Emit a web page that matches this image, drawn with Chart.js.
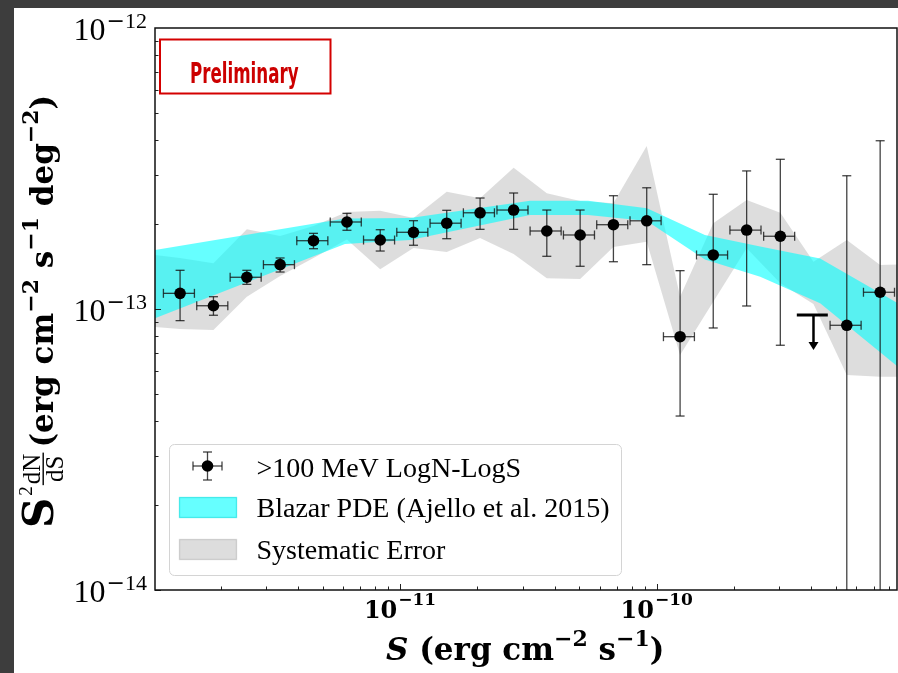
<!DOCTYPE html>
<html>
<head>
<meta charset="utf-8">
<script src="https://cdn.jsdelivr.net/npm/chart.js@4.4.0/dist/chart.umd.min.js"></script>
<style>
  html, body { margin: 0; padding: 0; background: #3d3d3d; }
  canvas { display: block; }
</style>
</head>
<body>
<canvas id="chart" width="898" height="673"></canvas>
<script>
// LogN-LogS points (S in erg cm^-2 s^-1, S^2 dN/dS in erg cm^-2 s^-1 deg^-2)
const sPts = [1.39e-12, 1.875e-12, 2.53e-12, 3.41e-12, 4.60e-12, 6.21e-12, 8.37e-12, 1.128e-11, 1.52e-11, 2.05e-11, 2.77e-11, 3.73e-11, 5.03e-11, 6.78e-11, 9.14e-11, 1.233e-10, 1.66e-10, 2.24e-10, 3.03e-10, 5.50e-10, 7.42e-10];
const sLo = [1.197e-12, 1.614e-12, 2.178e-12, 2.936e-12, 3.960e-12, 5.346e-12, 7.206e-12, 9.711e-12, 1.309e-11, 1.765e-11, 2.385e-11, 3.211e-11, 4.330e-11, 5.837e-11, 7.869e-11, 1.062e-10, 1.429e-10, 1.928e-10, 2.609e-10, 4.735e-10, 6.388e-10];
const sHi = [1.581e-12, 2.133e-12, 2.877e-12, 3.878e-12, 5.232e-12, 7.063e-12, 9.520e-12, 1.283e-11, 1.729e-11, 2.332e-11, 3.151e-11, 4.242e-11, 5.721e-11, 7.711e-11, 1.040e-10, 1.402e-10, 1.888e-10, 2.548e-10, 3.446e-10, 6.255e-10, 8.439e-10];
const vPts = [1.137e-13, 1.027e-13, 1.297e-13, 1.438e-13, 1.750e-13, 2.04e-13, 1.76e-13, 1.875e-13, 2.02e-13, 2.20e-13, 2.25e-13, 1.895e-13, 1.834e-13, 1.995e-13, 2.06e-13, 7.97e-14, 1.557e-13, 1.91e-13, 1.815e-13, 8.75e-14, 1.147e-13];
const vLo = [9.09e-14, 9.50e-14, 1.224e-13, 1.354e-13, 1.639e-13, 1.906e-13, 1.608e-13, 1.686e-13, 1.779e-13, 1.921e-13, 1.921e-13, 1.540e-13, 1.419e-13, 1.473e-13, 1.438e-13, 4.16e-14, 8.56e-14, 1.025e-13, 7.43e-14, 0, 0];
const vHi = [1.373e-13, 1.106e-13, 1.373e-13, 1.519e-13, 1.859e-13, 2.19e-13, 1.915e-13, 2.062e-13, 2.245e-13, 2.483e-13, 2.587e-13, 2.25e-13, 2.25e-13, 2.53e-13, 2.70e-13, 1.369e-13, 2.56e-13, 3.10e-13, 3.41e-13, 2.98e-13, 3.97e-13];

// upper limit bin
const ulS = [4.08e-10];
const ulSLo = [3.513e-10];
const ulSHi = [4.640e-10];
const ulV = [9.52e-14];
const ulTip = [7.15e-14];

// Blazar PDE band
const pdeS = [1.11e-12, 6.10e-12, 1.094e-11, 3.21e-11, 5.40e-11, 9.16e-11, 1.54e-10, 2.53e-10, 4.33e-10, 8.70e-10];
const pdeHi = [1.622e-13, 2.099e-13, 2.108e-13, 2.429e-13, 2.429e-13, 2.282e-13, 1.834e-13, 1.669e-13, 1.513e-13, 1.048e-13];
const pdeLo = [9.27e-14, 1.703e-13, 1.760e-13, 2.160e-13, 2.160e-13, 2.057e-13, 1.501e-13, 1.303e-13, 1.048e-13, 6.23e-14];

// systematic error band
const sysS = [1.11e-12, 1.39e-12, 1.875e-12, 2.53e-12, 3.41e-12, 4.60e-12, 6.21e-12, 8.37e-12, 1.128e-11, 1.52e-11, 2.05e-11, 2.77e-11, 3.73e-11, 5.03e-11, 6.78e-11, 9.14e-11, 1.233e-10, 1.66e-10, 2.24e-10, 3.03e-10, 4.08e-10, 5.50e-10, 7.42e-10, 8.70e-10];
const sysHi = [1.557e-13, 1.519e-13, 1.454e-13, 1.921e-13, 1.819e-13, 1.974e-13, 2.214e-13, 2.238e-13, 2.108e-13, 2.615e-13, 2.477e-13, 3.184e-13, 2.58e-13, 2.423e-13, 2.378e-13, 3.80e-13, 1.106e-13, 2.018e-13, 2.443e-13, 2.201e-13, 1.473e-13, 1.760e-13, 1.434e-13, 1.44e-13];
const sysLo = [8.63e-14, 8.49e-14, 8.42e-14, 1.106e-13, 1.311e-13, 1.519e-13, 1.767e-13, 1.384e-13, 1.648e-13, 1.595e-13, 1.789e-13, 1.569e-13, 1.286e-13, 1.279e-13, 1.662e-13, 1.736e-13, 6.86e-14, 1.062e-13, 1.644e-13, 1.234e-13, 1.042e-13, 5.82e-14, 5.74e-14, 5.74e-14];

// axes
const xRange = [1.11e-12, 8.63e-10];
const yRange = [1e-14, 1e-12];
const xTickExp = ['−11', '−10'];
const xTickVal = [1e-11, 1e-10];
const yTickExp = ['−14', '−13', '−12'];
const yTickVal = [1e-14, 1e-13, 1e-12];
const legendLabels = ['>100 MeV LogN-LogS', 'Blazar PDE (Ajello et al. 2015)', 'Systematic Error'];

const CYAN = 'rgba(0,255,255,0.6)';
const GREY = 'rgba(128,128,128,0.27)';
const BOLD = '"DejaVu Serif", serif';
const REG = '"Liberation Serif", "Times New Roman", serif';

const pts = (xs, ys) => xs.map((x, i) => ({ x: x, y: ys[i] }));

// draw a list of text runs left to right
function runsWidth(ctx, runs) {
  let w = 0;
  runs.forEach(r => { ctx.font = r.f; w += ctx.measureText(r.t).width + (r.gap || 0); });
  return w;
}
function drawRuns(ctx, runs, x, y) {
  runs.forEach(r => {
    ctx.font = r.f;
    ctx.fillText(r.t, x, y + (r.dy || 0));
    x += ctx.measureText(r.t).width + (r.gap || 0);
  });
  return x;
}

function seg(ctx, x1, y1, x2, y2) {
  ctx.beginPath(); ctx.moveTo(x1, y1); ctx.lineTo(x2, y2); ctx.stroke();
}

const decor = {
  id: 'decor',
  beforeDraw(chart) {
    const ctx = chart.ctx;
    ctx.save();
    ctx.fillStyle = '#3d3d3d';
    ctx.fillRect(0, 0, chart.width, chart.height);
    ctx.fillStyle = '#ffffff';
    ctx.fillRect(14, 8, chart.width - 14, chart.height - 8);
    ctx.restore();
  },
  beforeDatasetDraw(chart, args) {
    if (args.index !== 0) return;
    const ctx = chart.ctx, xs = chart.scales.x, ys = chart.scales.y, a = chart.chartArea;
    ctx.save();
    ctx.beginPath(); ctx.rect(a.left, a.top, a.right - a.left, a.bottom - a.top); ctx.clip();
    ctx.strokeStyle = 'rgba(20,20,20,0.8)';
    ctx.lineWidth = 1.3;
    const cap = 4.5;
    sPts.forEach((s, i) => {
      const px = xs.getPixelForValue(s), py = ys.getPixelForValue(vPts[i]);
      const x1 = xs.getPixelForValue(sLo[i]), x2 = xs.getPixelForValue(sHi[i]);
      const yTop = ys.getPixelForValue(vHi[i]);
      const yBot = vLo[i] > 0 ? ys.getPixelForValue(vLo[i]) : a.bottom + 20;
      seg(ctx, x1, py, x2, py);
      seg(ctx, x1, py - cap, x1, py + cap);
      seg(ctx, x2, py - cap, x2, py + cap);
      seg(ctx, px, yTop, px, yBot);
      seg(ctx, px - cap, yTop, px + cap, yTop);
      if (vLo[i] > 0) seg(ctx, px - cap, yBot, px + cap, yBot);
    });
    // upper limit
    ctx.strokeStyle = '#000'; ctx.fillStyle = '#000';
    ulS.forEach((s, i) => {
      const px = xs.getPixelForValue(s), py = ys.getPixelForValue(ulV[i]);
      const tip = ys.getPixelForValue(ulTip[i]);
      ctx.lineWidth = 3;
      seg(ctx, xs.getPixelForValue(ulSLo[i]), py, xs.getPixelForValue(ulSHi[i]), py);
      ctx.lineWidth = 2.5;
      seg(ctx, px, py, px, tip - 7);
      ctx.beginPath();
      ctx.moveTo(px - 5, tip - 8); ctx.lineTo(px + 5, tip - 8); ctx.lineTo(px, tip); ctx.closePath();
      ctx.fill();
    });
    ctx.restore();
  },
  afterDatasetsDraw(chart) {
    const ctx = chart.ctx, xs = chart.scales.x, ys = chart.scales.y, a = chart.chartArea;
    ctx.save();
    // inward ticks
    ctx.strokeStyle = '#222'; ctx.lineWidth = 1;
    for (let e = -12; e <= -10; e++) {
      for (let m = 1; m <= 9; m++) {
        const v = m * Math.pow(10, e);
        if (v < xRange[0] || v > xRange[1]) continue;
        const px = Math.round(xs.getPixelForValue(v)) + 0.5;
        seg(ctx, px, a.bottom, px, a.bottom - (m === 1 ? 6 : 3.5));
      }
    }
    for (let e = -14; e <= -13; e++) {
      for (let m = 1; m <= 9; m++) {
        const v = m * Math.pow(10, e);
        const py = Math.round(ys.getPixelForValue(v)) + 0.5;
        seg(ctx, a.left, py, a.left + (m === 1 ? 6 : 3.5), py);
      }
    }
    // frame
    ctx.strokeStyle = '#111'; ctx.lineWidth = 1.5;
    ctx.strokeRect(a.left, a.top, a.right - a.left, a.bottom - a.top);

    // Preliminary box
    ctx.strokeStyle = '#d40000'; ctx.lineWidth = 2;
    ctx.strokeRect(160, 39.5, 170.5, 54);
    ctx.fillStyle = '#cc0000';
    ctx.font = 'bold 29px "Liberation Sans Narrow", "DejaVu Sans Condensed", sans-serif';
    const pw = ctx.measureText('Preliminary').width;
    ctx.save();
    ctx.translate(190, 82.5);
    ctx.scale(108.5 / pw, 1);
    ctx.fillText('Preliminary', 0, 0);
    ctx.restore();

    // legend
    const lx = 169.5, ly = 444.5, lw = 452, lh = 131;
    ctx.beginPath();
    ctx.roundRect(lx, ly, lw, lh, 5);
    ctx.fillStyle = 'rgba(255,255,255,0.8)'; ctx.fill();
    ctx.strokeStyle = '#d4d4d4'; ctx.lineWidth = 1; ctx.stroke();
    // entry 1: error bar marker
    ctx.strokeStyle = 'rgba(20,20,20,0.8)'; ctx.lineWidth = 1.3;
    const mx = 207.5, my = 466;
    seg(ctx, mx - 14.5, my, mx + 14.5, my);
    seg(ctx, mx - 14.5, my - 4.5, mx - 14.5, my + 4.5);
    seg(ctx, mx + 14.5, my - 4.5, mx + 14.5, my + 4.5);
    seg(ctx, mx, my - 14, mx, my + 14);
    seg(ctx, mx - 4.5, my - 14, mx + 4.5, my - 14);
    seg(ctx, mx - 4.5, my + 14, mx + 4.5, my + 14);
    ctx.fillStyle = '#000';
    ctx.beginPath(); ctx.arc(mx, my, 5.8, 0, Math.PI * 2); ctx.fill();
    // entry 2, 3: patches
    ctx.fillStyle = CYAN; ctx.fillRect(179.5, 497.5, 57, 20);
    ctx.strokeStyle = 'rgba(0,220,220,0.6)'; ctx.strokeRect(179.5, 497.5, 57, 20);
    ctx.fillStyle = GREY; ctx.fillRect(179.5, 539.5, 57, 20);
    ctx.strokeStyle = 'rgba(128,128,128,0.3)'; ctx.strokeRect(179.5, 539.5, 57, 20);
    ctx.fillStyle = '#000';
    ctx.font = '28px ' + REG;
    ctx.textBaseline = 'alphabetic';
    ctx.fillText(legendLabels[0], 256.5, 477);
    ctx.fillText(legendLabels[1], 256.5, 517);
    ctx.fillText(legendLabels[2], 256.5, 558.5);
    ctx.restore();
  },
  afterDraw(chart) {
    const ctx = chart.ctx, xs = chart.scales.x, ys = chart.scales.y;
    ctx.save();
    ctx.fillStyle = '#000';
    ctx.textBaseline = 'alphabetic';
    // x tick labels
    xTickVal.forEach((v, i) => {
      const runs = [
        { t: '10', f: 'bold 24px ' + BOLD, gap: 1 },
        { t: xTickExp[i], f: 'bold 17px ' + BOLD, dy: -13 }
      ];
      const w = runsWidth(ctx, runs);
      drawRuns(ctx, runs, xs.getPixelForValue(v) - w / 2, 618);
    });
    // y tick labels
    yTickVal.forEach((v, i) => {
      const runs = [
        { t: '10', f: '32px ' + REG, gap: 1 },
        { t: '−', f: '22px ' + BOLD, dy: -12 },
        { t: yTickExp[i].slice(1), f: '22px ' + REG, dy: -12 }
      ];
      const w = runsWidth(ctx, runs);
      drawRuns(ctx, runs, 147 - w, ys.getPixelForValue(v) + 12);
    });
    // x axis title
    const xt = [
      { t: 'S', f: 'italic bold 31px ' + BOLD },
      { t: ' (erg cm', f: 'bold 31px ' + BOLD },
      { t: '−2', f: 'bold 22px ' + BOLD, dy: -14 },
      { t: ' s', f: 'bold 31px ' + BOLD },
      { t: '−1', f: 'bold 22px ' + BOLD, dy: -14 },
      { t: ')', f: 'bold 31px ' + BOLD }
    ];
    drawRuns(ctx, xt, 386, 660);
    // y axis title (rotated)
    ctx.translate(53, 528);
    ctx.rotate(-Math.PI / 2);
    ctx.font = 'bold 42px ' + BOLD;
    ctx.fillText('S', 0, 0);
    let u = ctx.measureText('S').width + 2;
    ctx.font = '19px ' + REG;
    ctx.fillText('2', u, -21);
    u += ctx.measureText('2').width + 1;
    ctx.font = '25px ' + REG;
    const wN = ctx.measureText('dN').width, wS = ctx.measureText('dS').width;
    const fw = Math.max(wN, wS) + 2;
    ctx.fillText('dN', u + (fw - wN) / 2, -13);
    ctx.fillText('dS', u + (fw - wS) / 2, 10);
    ctx.fillRect(u, -10.5, fw, 1.4);
    u = Math.max(u + fw + 5, 76);
    const yt = [
      { t: '(erg cm', f: 'bold 31px ' + BOLD },
      { t: '−2', f: 'bold 22px ' + BOLD, dy: -15 },
      { t: ' s', f: 'bold 31px ' + BOLD },
      { t: '−1', f: 'bold 22px ' + BOLD, dy: -15 },
      { t: ' deg', f: 'bold 31px ' + BOLD },
      { t: '−2', f: 'bold 22px ' + BOLD, dy: -15 },
      { t: ')', f: 'bold 31px ' + BOLD }
    ];
    drawRuns(ctx, yt, u, 0);
    ctx.restore();
  }
};

new Chart(document.getElementById('chart'), {
  type: 'line',
  data: {
    datasets: [
      { label: 'points', data: pts(sPts, vPts), showLine: false, pointRadius: 5.8, pointHoverRadius: 5.8,
        pointBackgroundColor: '#000', pointBorderWidth: 0, order: 0 },
      { label: 'pdeHi', data: pts(pdeS, pdeHi), borderWidth: 0, pointRadius: 0, fill: 2,
        backgroundColor: CYAN, order: 1 },
      { label: 'pdeLo', data: pts(pdeS, pdeLo), borderWidth: 0, pointRadius: 0, fill: false, order: 2 },
      { label: 'sysHi', data: pts(sysS, sysHi), borderWidth: 0, pointRadius: 0, fill: 4,
        backgroundColor: GREY, order: 3 },
      { label: 'sysLo', data: pts(sysS, sysLo), borderWidth: 0, pointRadius: 0, fill: false, order: 4 }
    ]
  },
  options: {
    responsive: false,
    animation: false,
    devicePixelRatio: 1,
    layout: { autoPadding: false, padding: { left: 155, top: 28, right: 1, bottom: 83 } },
    plugins: { legend: { display: false }, tooltip: { enabled: false } },
    scales: {
      x: { type: 'logarithmic', min: xRange[0], max: xRange[1], display: false },
      y: { type: 'logarithmic', min: yRange[0], max: yRange[1], display: false }
    }
  },
  plugins: [decor]
});
</script>
</body>
</html>
